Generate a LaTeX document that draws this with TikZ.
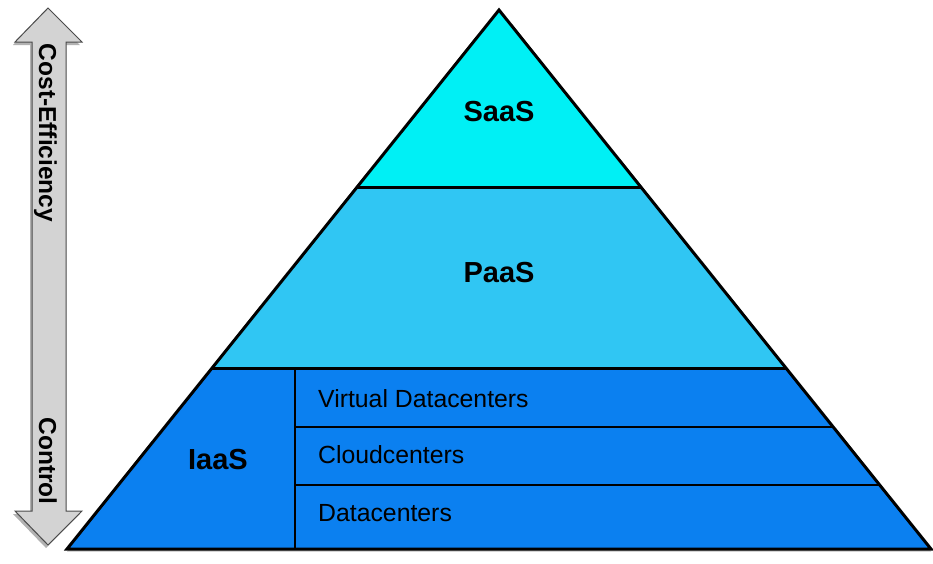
\documentclass[tikz,border=0pt]{standalone}
\usepackage{fontspec}
\setmainfont{Liberation Sans}
\usetikzlibrary{calc,shadows}
\definecolor{saascol}{HTML}{00F0F5}
\definecolor{paascol}{HTML}{30C6F3}
\definecolor{iaascol}{HTML}{0B80F0}
\definecolor{arrowcol}{HTML}{D3D3D3}
\definecolor{arrowline}{HTML}{4A4A4A}
\begin{document}
\begin{tikzpicture}[x=1pt,y=-1pt,
  layerlabel/.style={font=\fontsize{29}{29}\selectfont\bfseries, inner sep=0pt},
  sublabel/.style={font=\fontsize{24.8}{25}\selectfont, inner sep=0pt, anchor=west},
  axislabel/.style={font=\fontsize{24.5}{25}\selectfont\bfseries, inner sep=0pt, rotate=-90, anchor=base},
  outline/.style={line width=3pt, line join=miter},
  divider/.style={line width=1.2pt},
  arrowshape/.style={fill=arrowcol, draw=arrowline, line width=1pt,
    drop shadow={shadow xshift=-2pt, shadow yshift=-3pt, opacity=0.3, fill=black}}]
\useasboundingbox (0,0) rectangle (933,563);

% double arrow
\draw[arrowshape] (15,42) -- (48,8) -- (82,42) -- (66,42) -- (66,511) -- (82,511)
  -- (48,545) -- (15,511) -- (32,511) -- (32,42) -- cycle;
\node[axislabel] (costeff) at (39,133) {Cost-Efficiency};
\node[axislabel] (control) at (39,461) {Control};

% pyramid corners
\coordinate (apex) at (499,10);
\coordinate (bl) at (67,549);
\coordinate (br) at (931,549);
\coordinate (l1) at ($(apex)!0.3302!(bl)$);
\coordinate (r1) at ($(apex)!0.3302!(br)$);
\coordinate (l2) at ($(apex)!0.6660!(bl)$);
\coordinate (r2) at ($(apex)!0.6660!(br)$);
\coordinate (l3) at ($(apex)!0.7737!(bl)$);
\coordinate (r3) at ($(apex)!0.7737!(br)$);
\coordinate (l4) at ($(apex)!0.8813!(bl)$);
\coordinate (r4) at ($(apex)!0.8813!(br)$);
\coordinate (v1) at (295,369);
\coordinate (v2) at (295,549);

% fills
\fill[iaascol, drop shadow={shadow xshift=0pt, shadow yshift=-2.5pt, opacity=0.25, fill=black}]
  (apex) -- (br) -- (bl) -- cycle;
\fill[paascol] (apex) -- (r2) -- (l2) -- cycle;
\fill[saascol] (apex) -- (r1) -- (l1) -- cycle;

% dividers
\draw[divider] (v1) -- (v2);
\draw[divider] (v1 |- l3) -- (r3);
\draw[divider] (v1 |- l4) -- (r4);
\draw[outline] (l1) -- (r1);
\draw[outline] (l2) -- (r2);
\draw[outline] (apex) -- (br) -- (bl) -- cycle;

% labels
\node[layerlabel] (saas) at (499,112) {SaaS};
\node[layerlabel] (paas) at (499,273) {PaaS};
\node[layerlabel] (iaas) at (218,460) {IaaS};
\node[sublabel] (vdc) at (318,399) {Virtual Datacenters};
\node[sublabel] (cc) at (318,455) {Cloudcenters};
\node[sublabel] (dc) at (318,513) {Datacenters};
\end{tikzpicture}
\end{document}
